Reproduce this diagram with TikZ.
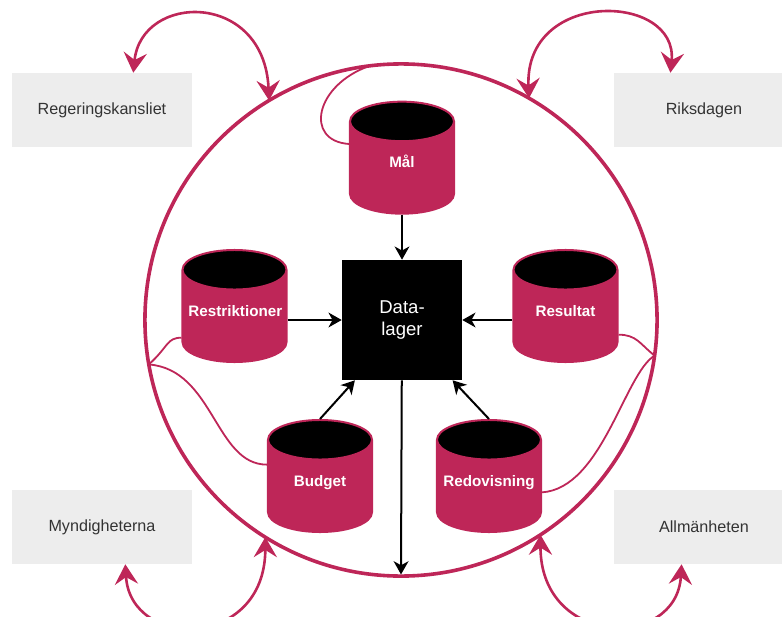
\documentclass[tikz,border=0pt]{standalone}
\usepackage{fontspec}
\setmainfont{Liberation Sans}
\usepackage{tikz}
\usetikzlibrary{shapes.geometric, arrows.meta, positioning}
\definecolor{plum}{RGB}{190,38,88}
\definecolor{boxgray}{RGB}{237,237,237}
\definecolor{txtgray}{RGB}{51,51,51}
\tikzset{
    actor/.style={
        rectangle,
        fill=boxgray,
        text=txtgray,
        minimum width=4.5cm,
        minimum height=1.85cm,
        font=\fontsize{11.5}{13}\selectfont,
    },
    store/.style={
        cylinder,
        shape border rotate=90,
        aspect=0.39,
        anchor=shape center,
        draw=plum,
        line width=0.05cm,
        cylinder uses custom fill,
        cylinder body fill=plum,
        cylinder end fill=black,
        minimum width=2.6cm,
        minimum height=2.8cm,
        text width=2.3cm,
        align=center,
        text height=8pt,
        text depth=14pt,
        text=white,
        font=\bfseries\fontsize{10.8}{12}\selectfont,
    },
    ring/.style={
        circle,
        draw=plum,
        line width=0.09cm,
        minimum size=12.8cm,
        inner sep=0pt,
        outer sep=0pt,
    },
    datastore/.style={
        rectangle,
        fill=black,
        text=white,
        minimum size=3cm,
        align=center,
        font=\fontsize{13.2}{16.3}\selectfont,
    },
}

\begin{document}
\begin{tikzpicture}[x=0.025cm, y=-0.025cm,
    feed/.style={-{Stealth[length=3.3mm,width=3.7mm,inset=1mm]}, line width=0.05cm},
    dblarrow/.style={{Stealth[length=5mm,width=5.8mm,inset=1.8mm]}-{Stealth[length=5mm,width=5.8mm,inset=1.8mm]}, draw=plum, line width=0.065cm},
    link/.style={draw=plum, line width=0.045cm}]
      \useasboundingbox (0,0) rectangle (782,617);

      \node [ring] (ring) at (401,320) {};

      \node [actor] (regk) at (102,110) {Regeringskansliet};
      \node [actor] (riks) at (704,110) {Riksdagen};
      \node [actor] (mynd) at (102,527) {Myndigheterna};
      \node [actor] (allm) at (704,527) {Allmänheten};

      \node [datastore] (data) at (402,320) {Data-\\lager};
      \node [store] (mal) [above=1.125cm of data] {Mål};
      \node [store] (restr) at (234.5,306) {Restriktioner};
      \node [store] (resul) at (565.5,306) {Resultat};
      \node [store] (budget) at (320,476) {Budget};
      \node [store] (redov) at (489,476) {Redovisning};

      % into and out of the data store
      \draw[feed] (mal) -- (data);
      \draw[feed] (data.west -| restr.east) -- (data.west);
      \draw[feed] (data.east -| resul.west) -- (data.east);
      \draw[feed] (budget.north) -- (data.232);
      \draw[feed] (redov.north) -- (data.310);
      \draw[feed, shorten >=0.04cm] (data) -- (ring.south);

      % thin links to the ring
      \draw[link] (ring.97) .. controls +(-55,19) and +(-45,-3) .. (mal.152);
      \draw[link] (ring.190) .. controls +(20,-18) and +(-15,0) .. (restr.198);
      \draw[link] (ring.190) .. controls +(65,5) and +(-52,0) .. (budget.154);
      \draw[link] (ring.352) .. controls +(-15,-12) and +(18,0) .. (resul.345);
      \draw[link] (ring.352) .. controls +(-30,18) and +(60,-4) .. (redov.358);

      % exchange with the actors
      \draw[dblarrow] (regk.50) .. controls +(8,-80) and +(-5,-110) .. (ring.121);
      \draw[dblarrow] (ring.60) .. controls +(-5,-110) and +(8,-80) .. (riks.132);
      \draw[dblarrow] (mynd.302) .. controls +(5,86) and +(0,113) .. (ring.238);
      \draw[dblarrow] (ring.303) .. controls +(0,113) and +(-5,86) .. (allm.239);
\end{tikzpicture}
\end{document}
